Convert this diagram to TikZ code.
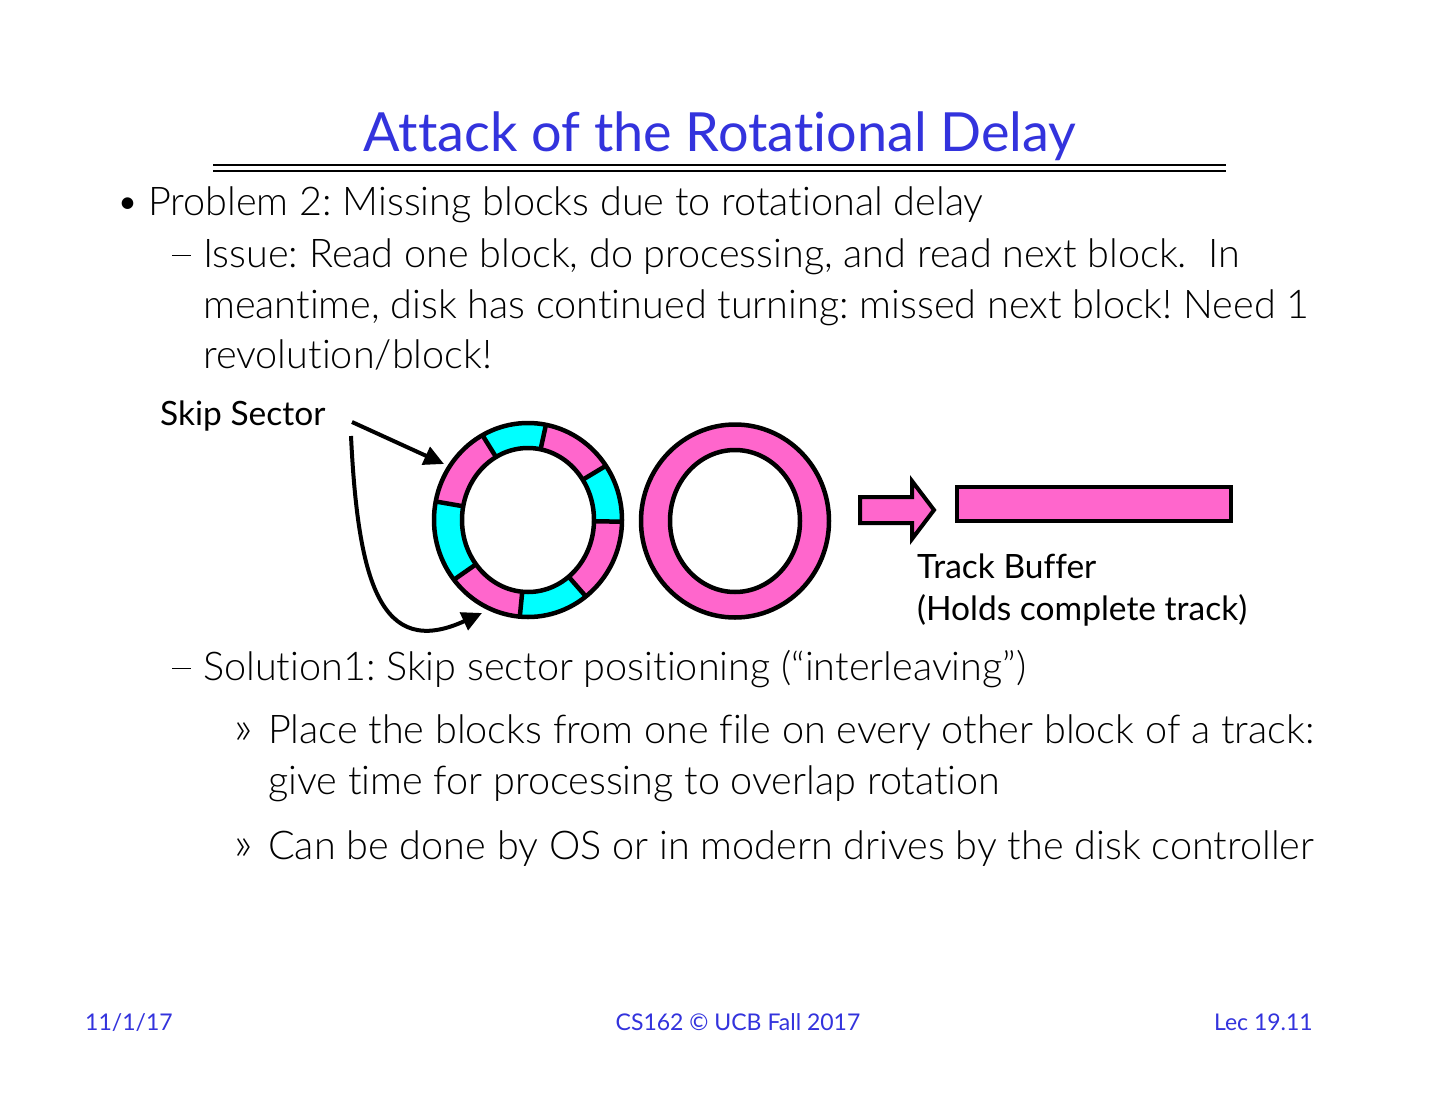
\documentclass[tikz,border=0pt]{standalone}
\usepackage{fontspec}
\setmainfont{Lato}[Ligatures=NoCommon]
\newfontfamily\lightfont{Lato Light}[Ligatures=NoCommon]
\usetikzlibrary{arrows.meta,calc}
\definecolor{ttl}{RGB}{51,51,221}
\definecolor{pk}{RGB}{255,102,204}
\definecolor{cy}{RGB}{0,255,255}
\newcommand{\dashmark}{\rule[0.27em]{19pt}{1.6pt}}
\begin{document}
\frenchspacing
\begin{tikzpicture}[x=1pt,y=-1pt,
  body/.style={anchor=base west, inner sep=0pt, font=\lightfont\fontsize{39.6}{46}\selectfont},
  gt/.style={anchor=base west, inner sep=0pt, font=\lightfont\fontsize{46}{52}\selectfont},
  lbl/.style={anchor=base west, inner sep=0pt, font=\fontsize{33.5}{40}\selectfont},
  foot/.style={inner sep=0pt, text=ttl, font=\fontsize{23}{28}\selectfont},
  ring/.style={line width=4.5pt},
  conn/.style={line width=4pt, -{Triangle[length=20pt,width=19pt]}}]
\useasboundingbox[fill=white] (0,0) rectangle (1440,1113);

% title
\node[anchor=base, inner sep=0pt, text=ttl, font=\fontsize{54}{64}\selectfont] (title) at (720,152) {Attack of the Rotational Delay};
\draw[line width=2pt] (213,165) -- (1226,165);
\draw[line width=2pt] (213,170.5) -- (1226,170.5);

% bullets
\node[body] (bul) at (116,215) {•};
\node[body] (p2) at (148,215) {Problem 2: Missing blocks due to rotational delay};
\node[body] (d1) at (172,267) {\dashmark};
\node[body] (i1) at (203,267) {Issue: Read one block, do processing, and read next block.\ \ In};
\node[body] (i2) at (203,318) {meantime, disk has continued turning: missed next block! Need 1};
\node[body] (i3) at (203,368) {revolution/block!};

\node[body] (d2) at (172,680) {\dashmark};
\node[body] (s1) at (203,680) {Solution1: Skip sector positioning (“interleaving”)};
\node[gt] (g1) at (234,743) {»};
\node[body] (s2) at (268,743) {Place the blocks from one file on every other block of a track:};
\node[body] (s3) at (268,794) {give time for processing to overlap rotation};
\node[gt] (g2) at (234,859) {»};
\node[body] (s4) at (268,859) {Can be done by OS or in modern drives by the disk controller};

% labels
\node[lbl] (skip) at (160,425) {Skip Sector};
\node[lbl] (tb1) at (917,578) {Track Buffer};
\node[lbl] (tb2) at (917,620) {(Holds complete track)};

% ring 1 with sectors
\coordinate (c1) at (528,520);
\foreach \a/\b/\c in {79/119/cy, 34/79/pk, -1/34/cy, -52/-1/pk, -95/-52/cy, -142/-95/pk, -191/-142/cy, 119/169/pk}{
  \fill[\c] ($(c1)+(-\a:94 and 97)$) arc[start angle=-\a, end angle=-\b, x radius=94, y radius=97]
     -- ($(c1)+(-\b:66 and 72)$) arc[start angle=-\b, end angle=-\a, x radius=66, y radius=72] -- cycle;
}
\foreach \a in {119,79,34,-1,-52,-95,-142,169}{
  \draw[ring] ($(c1)+(-\a:66 and 72)$) -- ($(c1)+(-\a:94 and 97)$);
}
\draw[ring] (c1) ellipse[x radius=94, y radius=97];
\draw[ring] (c1) ellipse[x radius=66, y radius=72];

% ring 2
\coordinate (c2) at (735,521);
\fill[pk, even odd rule] (c2) ellipse[x radius=94, y radius=96.5] (c2) ellipse[x radius=65, y radius=71];
\draw[ring] (c2) ellipse[x radius=94, y radius=96.5];
\draw[ring] (c2) ellipse[x radius=65, y radius=71];

% block arrow and buffer
\draw[line width=4pt, fill=pk, line join=miter] (860,497) -- (912,497) -- (912,481) -- (934,510) -- (912,539) -- (912,523) -- (860,523) -- cycle;
\node[draw, fill=pk, line width=4pt, minimum width=274pt, minimum height=34pt, inner sep=0pt] (buf) at (1094,504) {};

% skip sector arrows
\coordinate (a1s) at (352,422);
\coordinate (a1e) at (444,464);
\coordinate (a2s) at (351,436);
\coordinate (a2e) at (482,613);
\draw[conn] (a1s) -- (a1e);
\draw[conn] (a2s) .. controls (358,580) and (380,660) .. (a2e);

% footer
\node[foot, anchor=base west] (f1) at (85,1030) {11/1/17};
\node[foot, anchor=base] (f2) at (738,1030) {CS162 © UCB Fall 2017};
\node[foot, anchor=base east] (f3) at (1313,1030) {Lec 19.11};
\end{tikzpicture}
\end{document}
